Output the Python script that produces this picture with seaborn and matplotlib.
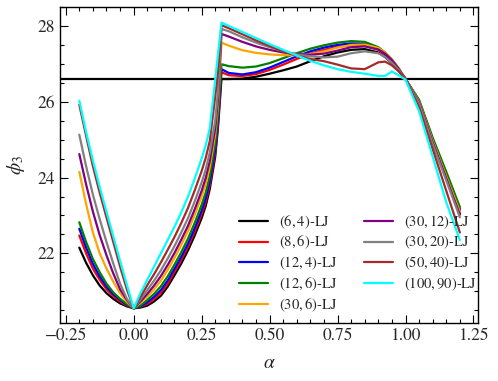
import numpy as np
import pandas as pd
import matplotlib
matplotlib.use("Agg")
import matplotlib.pyplot as plt
import seaborn as sns
from matplotlib.ticker import MultipleLocator

# alpha grid shared by all curves
alpha = [-0.2, -0.175, -0.15, -0.125, -0.1, -0.075, -0.05, -0.025, 0.0,
         0.025, 0.05, 0.075, 0.1, 0.125, 0.15, 0.175, 0.2, 0.225, 0.25, 0.265, 0.28, 0.3, 0.31, 0.323,
         0.35, 0.4, 0.45, 0.5, 0.55, 0.6, 0.65, 0.7, 0.75, 0.8, 0.85, 0.9, 0.925, 0.95, 0.975, 1.0,
         1.05, 1.1, 1.15, 1.2]

lj_6_4 = [22.15, 21.75, 21.42, 21.15, 20.95, 20.8, 20.68, 20.6, 20.55,
          20.57, 20.62, 20.73, 20.88, 21.12, 21.42, 21.73, 22.08, 22.48, 22.93, 23.25, 23.7, 24.55, 25.3, 26.6,
          26.6, 26.61, 26.66, 26.74, 26.83, 26.93, 27.07, 27.2, 27.3, 27.37, 27.39, 27.3, 27.18, 27.02, 26.83, 26.6,
          25.98, 24.95, 24.0, 23.05]
lj_8_6 = [22.47, 22.0, 21.6, 21.3, 21.05, 20.87, 20.73, 20.62, 20.55,
          20.59, 20.67, 20.79, 20.96, 21.2, 21.51, 21.83, 22.18, 22.58, 23.04, 23.36, 23.81, 24.65, 25.4, 26.78,
          26.7, 26.68, 26.73, 26.84, 26.98, 27.13, 27.27, 27.37, 27.45, 27.49, 27.48, 27.37, 27.24, 27.06, 26.85, 26.6,
          26.0, 24.98, 24.05, 23.12]
lj_12_4 = [22.65, 22.15, 21.72, 21.39, 21.12, 20.92, 20.77, 20.64, 20.55,
           20.6, 20.71, 20.85, 21.03, 21.28, 21.59, 21.91, 22.26, 22.67, 23.13, 23.45, 23.91, 24.75, 25.5, 26.86,
           26.76, 26.72, 26.78, 26.9, 27.05, 27.2, 27.33, 27.43, 27.5, 27.54, 27.53, 27.4, 27.26, 27.08, 26.86, 26.6,
           26.02, 25.02, 24.1, 23.17]
lj_12_6 = [22.82, 22.3, 21.85, 21.5, 21.2, 20.97, 20.8, 20.66, 20.55,
           20.62, 20.77, 20.93, 21.13, 21.39, 21.7, 22.03, 22.39, 22.81, 23.28, 23.6, 24.05, 24.9, 25.65, 26.99,
           26.94, 26.9, 26.93, 27.02, 27.15, 27.28, 27.4, 27.49, 27.56, 27.6, 27.58, 27.44, 27.3, 27.11, 26.88, 26.6,
           26.05, 25.05, 24.15, 23.22]
lj_30_6 = [24.15, 23.3, 22.55, 22.0, 21.6, 21.25, 20.95, 20.72, 20.55,
           20.7, 20.86, 21.05, 21.28, 21.56, 21.88, 22.22, 22.59, 23.02, 23.5, 23.83, 24.28, 25.15, 25.9, 27.56,
           27.48, 27.36, 27.29, 27.25, 27.23, 27.23, 27.26, 27.33, 27.43, 27.5, 27.51, 27.42, 27.3, 27.12, 26.88, 26.6,
           26.0, 24.97, 24.03, 23.1]
lj_30_12 = [24.62, 23.82, 23.1, 22.48, 21.95, 21.47, 21.05, 20.77, 20.55,
            20.73, 20.93, 21.15, 21.4, 21.69, 22.01, 22.36, 22.73, 23.17, 23.65, 23.99, 24.44, 25.3, 26.05, 27.79,
            27.72, 27.58, 27.46, 27.37, 27.3, 27.26, 27.24, 27.27, 27.35, 27.44, 27.46, 27.38, 27.27, 27.1, 26.87, 26.6,
            25.98, 24.93, 23.98, 23.02]
lj_30_20 = [25.13, 24.3, 23.55, 22.9, 22.3, 21.73, 21.2, 20.8, 20.55,
            20.78, 21.03, 21.28, 21.55, 21.86, 22.19, 22.55, 22.93, 23.38, 23.87, 24.21, 24.66, 25.5, 26.25, 27.92,
            27.86, 27.7, 27.56, 27.44, 27.33, 27.25, 27.2, 27.17, 27.19, 27.28, 27.33, 27.28, 27.18, 27.03, 26.84, 26.6,
            25.95, 24.88, 23.92, 22.95]
lj_50_40 = [25.92, 25.1, 24.3, 23.6, 22.95, 22.3, 21.65, 21.05, 20.55,
            20.85, 21.16, 21.45, 21.76, 22.09, 22.43, 22.8, 23.2, 23.67, 24.17, 24.52, 24.96, 26.15, 26.8, 28.02,
            27.94, 27.78, 27.62, 27.47, 27.33, 27.21, 27.13, 27.07, 26.98, 26.88, 26.86, 27.04, 27.06, 26.96, 26.8, 26.6,
            25.85, 24.75, 23.65, 22.55]
lj_100_90 = [26.03, 25.2, 24.45, 23.75, 23.1, 22.45, 21.8, 21.17, 20.55,
             20.95, 21.3, 21.65, 22.0, 22.35, 22.7, 23.08, 23.5, 23.98, 24.5, 24.85, 25.3, 26.58, 27.24, 28.09,
             28.0, 27.84, 27.68, 27.52, 27.37, 27.22, 27.08, 26.96, 26.86, 26.79, 26.74, 26.68, 26.68, 26.8, 26.7, 26.58,
             25.75, 24.55, 23.35, 22.35]

labels = ["$(6,4)$-LJ", "$(8,6)$-LJ", "$(12,4)$-LJ", "$(12,6)$-LJ", "$(30,6)$-LJ",
          "$(30,12)$-LJ", "$(30,20)$-LJ", "$(50,40)$-LJ", "$(100,90)$-LJ"]
colors = ["black", "red", "blue", "green", "orange", "purple", "gray", "brown", "cyan"]
series = [lj_6_4, lj_8_6, lj_12_4, lj_12_6, lj_30_6, lj_30_12, lj_30_20, lj_50_40, lj_100_90]
phi_ref = 26.6

df = pd.concat([pd.DataFrame({"alpha": alpha, "phi3": s, "model": lab})
                for s, lab in zip(series, labels)], ignore_index=True)

sns.set_style("ticks")
plt.rcParams["font.family"] = ["STIXGeneral", "DejaVu Serif"]
plt.rcParams["mathtext.fontset"] = "stix"
plt.rcParams["axes.linewidth"] = 1.0

fig, ax = plt.subplots(figsize=(4.98, 3.81), dpi=100)
fig.subplots_adjust(left=0.1205, right=0.96, bottom=0.152, top=0.9816)

ax.axhline(phi_ref, color="black", lw=1.6, zorder=1)
sns.lineplot(data=df, x="alpha", y="phi3", hue="model", hue_order=labels,
             palette=colors, estimator=None, sort=False, lw=1.6, ax=ax)

ax.set_xlim(-0.271, 1.267)
ax.set_ylim(20.16, 28.5)
ax.xaxis.set_major_locator(MultipleLocator(0.25))
ax.xaxis.set_minor_locator(MultipleLocator(0.05))
ax.yaxis.set_major_locator(MultipleLocator(2))
ax.yaxis.set_minor_locator(MultipleLocator(0.5))
ax.tick_params(which="both", direction="in", top=True, right=True, labelsize=12.5, color="black")
ax.tick_params(which="major", length=5.5, width=0.8)
ax.tick_params(which="minor", length=3, width=0.8)
for sp in ax.spines.values():
    sp.set_color("black")

ax.set_xlabel(r"$\alpha$", fontsize=14, labelpad=8)
ax.set_ylabel(r"$\phi_3$", fontsize=14, labelpad=8)

ax.legend(ncol=2, frameon=False, fontsize=10.5, loc="lower left",
          bbox_to_anchor=(0.428, 0.03), borderaxespad=0, borderpad=0,
          handlelength=2.0, handletextpad=0.75, columnspacing=1.8, labelspacing=0.23)

fig.savefig("out.png", dpi=100)
